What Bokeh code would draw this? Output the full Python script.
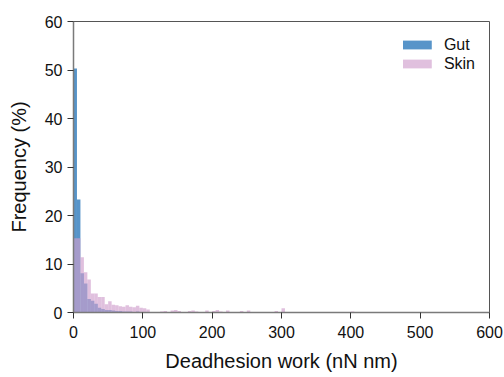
from bokeh.plotting import figure
from bokeh.models import Range1d, Legend, LegendItem, FixedTicker
from bokeh.embed import file_html
from bokeh.resources import INLINE

BIN = 5
# Gut histogram: bin starts (nN nm) and frequency (%)
gut_left = [0, 5, 10, 15, 20, 25, 30, 35, 40, 45, 50, 55, 60, 65, 70, 75, 80, 85, 90, 95, 100]
gut_pct = [50.3, 23.3, 8.1, 6.0, 2.8, 2.4, 1.8, 1.0, 0.7, 0.5, 0.5, 0.4, 0.3, 0.3, 0.2, 0.2, 0.2, 0.1, 0.2, 0.1, 0.1]

# Skin histogram: bin starts (nN nm) and frequency (%)
skin_left = [0, 5, 10, 15, 20, 25, 30, 35, 40, 45, 50, 55, 60, 65, 70, 75, 80, 85, 90, 95,
             100, 105, 125, 130, 140, 145, 150, 165, 170, 175, 190, 200, 205, 210, 220,
             240, 250, 290, 300, 400]
skin_pct = [15.3, 15.3, 11.4, 8.3, 6.8, 3.9, 3.9, 3.2, 3.2, 1.7, 2.3, 1.6, 1.5, 1.3, 1.2, 1.5, 1.2, 1.1, 1.4, 1.0,
            0.9, 0.6, 0.2, 0.3, 0.4, 0.5, 0.3, 0.3, 0.4, 0.2, 0.4, 0.3, 0.5, 0.2, 0.4,
            0.3, 0.4, 0.3, 0.9, 0.2]

x_ticks = [0, 100, 200, 300, 400, 500, 600]
y_ticks = [0, 10, 20, 30, 40, 50, 60]

p = figure(width=504, height=377, output_backend="svg", toolbar_location=None,
           x_range=Range1d(0, 600), y_range=Range1d(0, 60),
           min_border_left=73, min_border_right=15, min_border_top=21, min_border_bottom=65)

g = p.quad(left=gut_left, right=[v + BIN for v in gut_left], top=gut_pct, bottom=0,
           fill_color="#4E8EC6", fill_alpha=0.95, line_color=None)
s = p.quad(left=skin_left, right=[v + BIN for v in skin_left], top=skin_pct, bottom=0,
           fill_color="#D09ECC", fill_alpha=0.65, line_color=None)

p.xgrid.visible = False
p.ygrid.visible = False
p.background_fill_color = "white"
p.border_fill_color = "white"
p.outline_line_color = "#555555"
p.outline_line_width = 1

font = "Liberation Sans"
for ax in (p.xaxis[0], p.yaxis[0]):
    ax.axis_line_color = "#7a7a7a"
    ax.axis_line_width = 1.5
    ax.major_tick_line_color = "#333333"
    ax.major_tick_out = 6
    ax.major_tick_in = 0
    ax.minor_tick_line_color = None
    ax.major_label_text_font = font
    ax.major_label_text_font_size = "16px"
    ax.major_label_text_color = "#111111"
    ax.axis_label_text_font = font
    ax.axis_label_text_font_size = "20px"
    ax.axis_label_text_font_style = "normal"
    ax.axis_label_text_color = "#111111"

p.xaxis[0].ticker = FixedTicker(ticks=x_ticks)
p.yaxis[0].ticker = FixedTicker(ticks=y_ticks)
p.xaxis[0].axis_label = "Deadhesion work (nN nm)"
p.yaxis[0].axis_label = "Frequency (%)"
p.xaxis[0].major_label_standoff = 7
p.yaxis[0].major_label_standoff = 5
p.xaxis[0].axis_label_standoff = 9
p.yaxis[0].axis_label_standoff = 12

legend = Legend(items=[LegendItem(label="Gut", renderers=[g]),
                       LegendItem(label="Skin", renderers=[s])],
                location="top_right")
legend.label_text_font = font
legend.label_text_font_size = "16px"
legend.label_text_color = "#111111"
legend.glyph_width = 36
legend.glyph_height = 11
legend.label_height = 19
legend.label_standoff = 9
legend.spacing = 0
legend.padding = 0
legend.margin = 14
legend.border_line_color = None
legend.background_fill_alpha = 0
p.add_layout(legend)

open("out.html", "w").write(file_html(p, INLINE))
